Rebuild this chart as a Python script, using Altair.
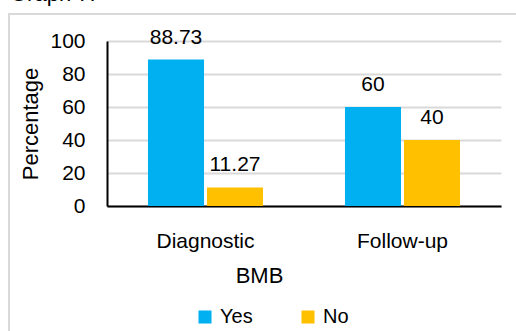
import altair as alt
import pandas as pd

# BMB result shares by visit type
visits = ["Diagnostic", "Follow-up"]
answers = ["Yes", "No"]
yes_pct = [88.73, 60]
no_pct = [11.27, 40]
colors = ["#00B0F0", "#FFC000"]
y_ticks = [0, 20, 40, 60, 80, 100]

rows = []
for i, v in enumerate(visits):
    rows.append({"BMB": v, "Answer": "Yes", "Percentage": yes_pct[i]})
    rows.append({"BMB": v, "Answer": "No", "Percentage": no_pct[i]})
df = pd.DataFrame(rows)

FONT = "Liberation Sans"
common_axis = dict(
    labelFont=FONT,
    labelFontSize=21,
    labelColor="black",
    titleFont=FONT,
    titleFontSize=22,
    titleColor="black",
    titleFontWeight="normal",
    ticks=False,
    domainColor="black",
    domainWidth=2,
)

x_enc = alt.X(
    "BMB:N",
    sort=visits,
    scale=alt.Scale(paddingInner=0.416, paddingOuter=0.208),
    axis=alt.Axis(
        title="BMB",
        labelAngle=0,
        labelPadding=24,
        grid=False,
        titleX=152,
        titleY=76,
        titleBaseline="alphabetic",
        titleAlign="center",
        **common_axis,
    ),
)
xoff = alt.XOffset("Answer:N", sort=answers, scale=alt.Scale(paddingInner=0.05))
y_enc = alt.Y(
    "Percentage:Q",
    scale=alt.Scale(domain=[0, 100]),
    axis=alt.Axis(
        values=y_ticks,
        labelPadding=22,
        labelOverlap=False,
        gridColor="#d9d9d9",
        gridWidth=2,
        title="Percentage",
        titleX=-77,
        titleY=82.5,
        titleAlign="center",
        titleBaseline="middle",
        titleAngle=-90,
        **common_axis,
    ),
)
color = alt.Color(
    "Answer:N",
    sort=answers,
    scale=alt.Scale(domain=answers, range=colors),
    legend=alt.Legend(
        title=None,
        orient="none",
        direction="horizontal",
        legendX=88,
        legendY=266,
        symbolType="square",
        symbolSize=170,
        symbolStrokeWidth=0,
        symbolOpacity=1,
        labelFontSize=20,
        labelFont=FONT,
        labelColor="black",
        labelOffset=5,
        columnPadding=45,
        padding=0,
    ),
)

bars = alt.Chart(df).mark_bar().encode(x=x_enc, xOffset=xoff, y=y_enc, color=color)

labels = alt.Chart(df).mark_text(
    baseline="alphabetic", dy=-16, fontSize=21, font=FONT, color="black"
).encode(
    x=x_enc,
    xOffset=xoff,
    y=y_enc,
    text=alt.Text("Percentage:Q"),
)

frame_df = pd.DataFrame({"k": [0]})
frame = alt.Chart(frame_df).mark_rect(
    fill=None, stroke="#d9d9d9", strokeWidth=2
).encode(
    x=alt.value(-98), x2=alt.value(600), y=alt.value(-27), y2=alt.value(400)
)

heading = alt.Chart(frame_df).mark_text(
    align="left", baseline="alphabetic", fontSize=22, font=FONT, color="black"
).encode(x=alt.value(-97), y=alt.value(-40), text=alt.value("Graph 7:"))

chart = (
    alt.layer(frame, bars, labels, heading)
    .properties(
        width=394,
        height=165,
        autosize=alt.AutoSizeParams(type="none"),
        padding={"left": 107, "top": 41, "right": 15, "bottom": 125},
        background="white",
    )
    .configure_view(stroke=None)
)

chart.save("out.html", embed_options={"renderer": "svg", "actions": False})
